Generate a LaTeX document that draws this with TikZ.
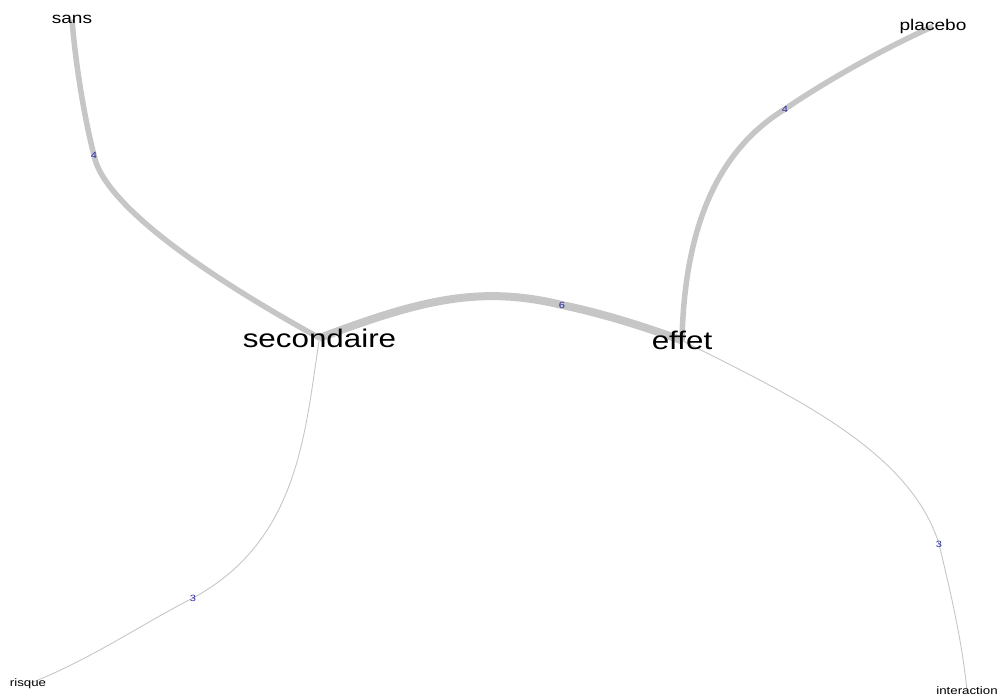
\documentclass[tikz,border=0pt]{standalone}
\usepackage{fontspec}
\setmainfont{Liberation Sans}[FakeStretch=1.23]
\usetikzlibrary{backgrounds}
\definecolor{edgegray}{RGB}{198,198,198}
\definecolor{weightblue}{RGB}{40,40,165}
\tikzset{
	term/.style={inner sep=0pt, text=black},
	hub/.style={term, font=\fontsize{25.5}{30}\selectfont},
	leaf/.style={term, font=\fontsize{15.5}{18}\selectfont},
	tail/.style={term, font=\fontsize{10.8}{13}\selectfont},
	% edge weights sit on the curves
	weight/.style={inner sep=0pt, text=weightblue, font=\fontsize{9}{10}\selectfont},
	strong/.style={draw=edgegray, line width=8pt},
	medium/.style={draw=edgegray, line width=5.5pt},
	weak/.style={draw=edgegray, line width=0.9pt},
}

\begin{document}
\begin{tikzpicture}[x=1pt, y=-1pt]
		
		\useasboundingbox (0,0) rectangle (999,697);
		
		\node (secondaire) [hub] at (319.5,338) {secondaire};
		
		\node (effet) [hub] at (682,340.5) {effet};
		
		\node (sans) [leaf] at (72,19.5) {sans};
		
		\node (placebo) [leaf] at (933,26.5) {placebo};
		
		\node (risque) [tail] at (28,684) {risque};
		
		\node (interaction) [tail] at (967,691) {interaction};
		
		\begin{scope}[on background layer]
			\draw [strong] (secondaire.center) .. controls (420,300) and (480,285) .. (562,305) node [weight] {6} .. controls (600,313) and (640,325) .. (effet.center);
			\draw [medium] (sans.center) .. controls (76,70) and (86,125) .. (94,155) node [weight] {4} .. controls (100,190) and (160,250) .. (secondaire.center);
			\draw [medium] (placebo.center) .. controls (880,50) and (820,85) .. (785,109) node [weight] {4} .. controls (735,140) and (685,200) .. (effet.center);
			\draw [weak] (secondaire.center) .. controls (305,430) and (300,540) .. (193,598) node [weight] {3} .. controls (140,625) and (90,660) .. (risque.center);
			\draw [weak] (effet.center) .. controls (790,395) and (910,450) .. (939,544) node [weight] {3} .. controls (950,590) and (962,640) .. (interaction.center);
		\end{scope}
	\end{tikzpicture}
\end{document}
